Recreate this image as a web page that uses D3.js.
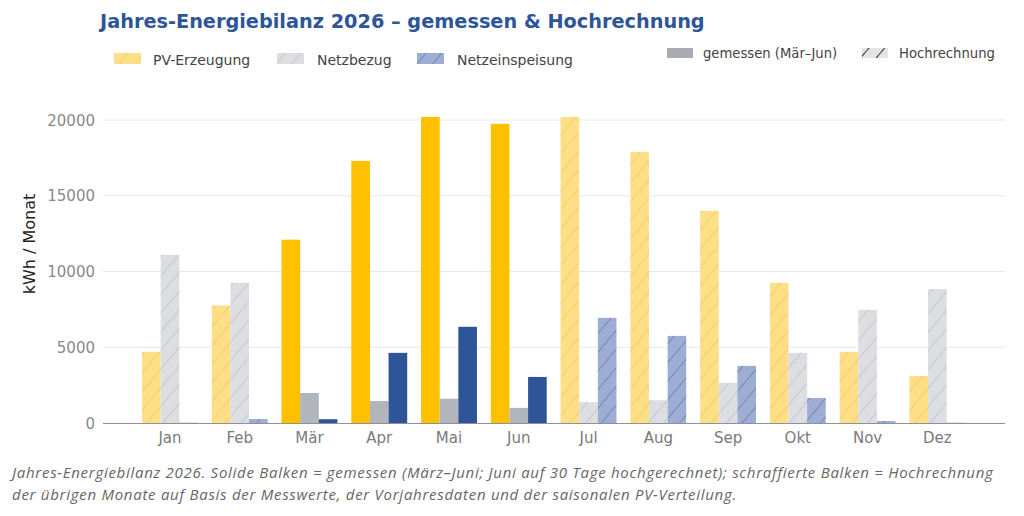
<!DOCTYPE html>
<html>
<head>
<meta charset="utf-8">
<script src="https://cdn.jsdelivr.net/npm/d3@7"></script>
<style>
  body { margin: 0; background: #fff; }
  svg { display: block; }
</style>
</head>
<body>
<div id="chart"></div>
<script>
// monthly values, kWh
const months = ["Jan", "Feb", "Mär", "Apr", "Mai", "Jun", "Jul", "Aug", "Sep", "Okt", "Nov", "Dez"];
const pvErzeugung = [4700, 7750, 12100, 17300, 20200, 19750, 20200, 17900, 14000, 9250, 4700, 3100];
const netzbezug = [11100, 9250, 1980, 1450, 1600, 1000, 1380, 1500, 2650, 4630, 7470, 8850];
const netzeinspeisung = [20, 260, 250, 4630, 6350, 3040, 6940, 5750, 3770, 1650, 130, 20];
const gemessen = [false, false, true, true, true, true, false, false, false, false, false, false];
const yTicks = [0, 5000, 10000, 15000, 20000];

const series = [
  { name: "PV-Erzeugung", values: pvErzeugung, solid: "#FFC000", light: "#FDDF88", hatch: "#F2C53E" },
  { name: "Netzbezug", values: netzbezug, solid: "#B1B5BC", light: "#DCDEE1", hatch: "#B5B8BE" },
  { name: "Netzeinspeisung", values: netzeinspeisung, solid: "#2E5597", light: "#9DADD3", hatch: "#5670A6" }
];

const width = 1024, height = 516;
const svg = d3.select("#chart").append("svg")
  .attr("width", width)
  .attr("height", height);

// hatch patterns
const defs = svg.append("defs");
series.forEach((s, i) => {
  const p = defs.append("pattern")
    .attr("id", "hatch" + i)
    .attr("patternUnits", "userSpaceOnUse")
    .attr("width", 12).attr("height", 12)
    .attr("patternTransform", "rotate(40)");
  p.append("rect").attr("width", 12).attr("height", 12).attr("fill", s.light);
  p.append("line").attr("x1", 0).attr("y1", 0).attr("x2", 0).attr("y2", 12)
    .attr("stroke", s.hatch).attr("stroke-width", 1.2);
});
const lp = defs.append("pattern")
  .attr("id", "hatchLegend")
  .attr("patternUnits", "userSpaceOnUse")
  .attr("width", 12).attr("height", 12)
  .attr("patternTransform", "rotate(40)");
lp.append("rect").attr("width", 12).attr("height", 12).attr("fill", "#E4E4E4");
lp.append("line").attr("x1", 0).attr("y1", 0).attr("x2", 0).attr("y2", 12)
  .attr("stroke", "#222").attr("stroke-width", 1.8);

const plotLeft = 103, plotRight = 1005, plotTop = 120, plotBottom = 423;

const x = d3.scaleLinear().domain([-0.96, 11.97]).range([plotLeft, plotRight]);
const y = d3.scaleLinear().domain([0, 20000]).range([plotBottom, plotTop]);
const unit = x(1) - x(0);
const barW = unit * 0.267;

// gridlines
svg.append("g")
  .selectAll("line")
  .data(yTicks.filter(d => d > 0))
  .enter()
  .append("line")
  .attr("x1", plotLeft).attr("x2", plotRight)
  .attr("y1", d => y(d)).attr("y2", d => y(d))
  .attr("stroke", "#E6E8EB").attr("stroke-width", 1);

// y tick labels
svg.append("g")
  .selectAll("text")
  .data(yTicks)
  .enter()
  .append("text")
  .attr("x", 95)
  .attr("y", d => y(d) + 5.5)
  .attr("text-anchor", "end")
  .style("font-family", "DejaVu Sans")
  .style("font-size", "15px")
  .attr("fill", "#8A8A8A")
  .text(d => d);

svg.append("text")
  .attr("transform", "translate(35,244) rotate(-90)")
  .attr("text-anchor", "middle")
  .style("font-family", "DejaVu Sans")
  .style("font-size", "16px")
  .attr("fill", "#222")
  .text("kWh / Monat");

// bars
series.forEach((s, si) => {
  svg.append("g")
    .selectAll("rect")
    .data(s.values)
    .enter()
    .append("rect")
    .attr("x", (d, i) => x(i) + (si - 1.5) * barW)
    .attr("y", d => y(d))
    .attr("width", barW)
    .attr("height", d => plotBottom - y(d))
    .attr("fill", (d, i) => gemessen[i] ? s.solid : "url(#hatch" + si + ")");
});

// x axis
svg.append("line")
  .attr("x1", plotLeft).attr("x2", plotRight)
  .attr("y1", plotBottom + 0.5).attr("y2", plotBottom + 0.5)
  .attr("stroke", "#8E9198").attr("stroke-width", 1.2);

svg.append("g")
  .selectAll("text")
  .data(months)
  .enter()
  .append("text")
  .attr("x", (d, i) => x(i))
  .attr("y", 443)
  .attr("text-anchor", "middle")
  .style("font-family", "DejaVu Sans")
  .style("font-size", "15px")
  .attr("fill", "#7A7A7A")
  .text(d => d);

// title
svg.append("text")
  .attr("x", 100).attr("y", 28)
  .style("font-family", "DejaVu Sans")
  .style("font-weight", "bold")
  .style("font-size", "19.3px")
  .attr("fill", "#2E5597")
  .text("Jahres-Energiebilanz 2026 – gemessen & Hochrechnung");

// legend
const legendItems = [
  { label: "PV-Erzeugung", fill: "url(#hatch0)", x: 114, tx: 153 },
  { label: "Netzbezug", fill: "url(#hatch1)", x: 277, tx: 317 },
  { label: "Netzeinspeisung", fill: "url(#hatch2)", x: 417, tx: 457 }
];
const lg = svg.append("g");
legendItems.forEach(it => {
  lg.append("rect").attr("x", it.x).attr("y", 53).attr("width", 27).attr("height", 11).attr("fill", it.fill);
  lg.append("text").attr("x", it.tx).attr("y", 64.5)
    .style("font-family", "DejaVu Sans").style("font-size", "14px")
    .attr("fill", "#444").text(it.label);
});
lg.append("rect").attr("x", 667).attr("y", 48).attr("width", 26).attr("height", 10).attr("fill", "#A9ACB2");
lg.append("text").attr("x", 703).attr("y", 58)
  .style("font-family", "DejaVu Sans").style("font-size", "13.2px")
  .attr("fill", "#444").text("gemessen (Mär–Jun)");
lg.append("rect").attr("x", 862).attr("y", 48).attr("width", 26).attr("height", 10).attr("fill", "url(#hatchLegend)");
lg.append("text").attr("x", 899).attr("y", 58)
  .style("font-family", "DejaVu Sans").style("font-size", "13.2px")
  .attr("fill", "#444").text("Hochrechnung");

// caption
const caption = [
  "Jahres-Energiebilanz 2026. Solide Balken = gemessen (März–Juni; Juni auf 30 Tage hochgerechnet); schraffierte Balken = Hochrechnung",
  "der übrigen Monate auf Basis der Messwerte, der Vorjahresdaten und der saisonalen PV-Verteilung."
];
svg.append("g")
  .selectAll("text")
  .data(caption)
  .enter()
  .append("text")
  .attr("x", 12)
  .attr("y", (d, i) => 478 + i * 22)
  .style("font-family", "Open Sans")
  .style("font-style", "italic")
  .style("font-size", "15px")
  .style("letter-spacing", "0.72px")
  .attr("fill", "#666")
  .text(d => d);
</script>
</body>
</html>
